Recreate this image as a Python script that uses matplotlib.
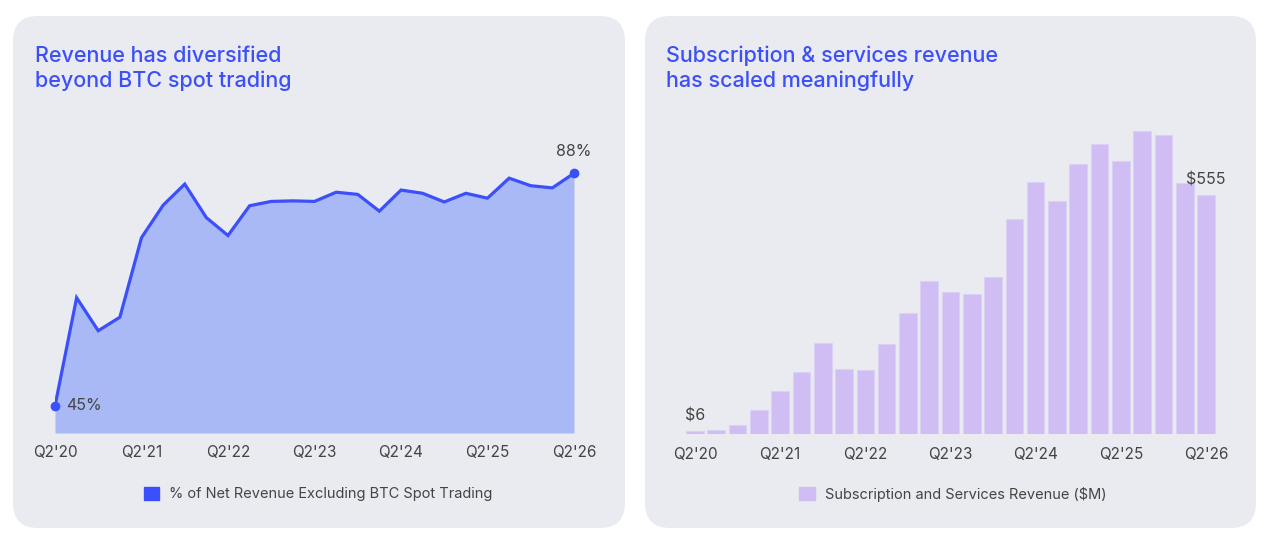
import matplotlib
matplotlib.use('Agg')
import matplotlib.pyplot as plt
from matplotlib.patches import FancyBboxPatch, Patch

plt.rcParams['font.family'] = ['Inter', 'DejaVu Sans']

# data
quarters = ["Q2'20", "Q3'20", "Q4'20", "Q1'21", "Q2'21", "Q3'21", "Q4'21", "Q1'22",
            "Q2'22", "Q3'22", "Q4'22", "Q1'23", "Q2'23", "Q3'23", "Q4'23", "Q1'24",
            "Q2'24", "Q3'24", "Q4'24", "Q1'25", "Q2'25", "Q3'25", "Q4'25", "Q1'26", "Q2'26"]
pct_ex_btc = [45, 65.0, 58.9, 61.4, 76.1, 82.1, 86.0, 79.8, 76.5, 82.0, 82.8, 82.9,
              82.8, 84.5, 84.1, 81.0, 84.9, 84.3, 82.7, 84.3, 83.4, 87.1, 85.7, 85.3, 88]
sub_services = [6, 8.5, 21.7, 55.8, 100.8, 145, 212.4, 151, 148.8, 208.5, 281.4, 355,
                329.4, 326.3, 364.3, 500.7, 586.7, 541.8, 627.8, 675, 634, 704.6, 694.4,
                583.6, 555]
tick_idx = [0, 4, 8, 12, 16, 20, 24]

W, H = 1263, 540
fig = plt.figure(figsize=(W / 100, H / 100), dpi=100)
fig.patch.set_facecolor('white')

panel_bg = '#eaebf0'
blue = '#3b4ffa'
fill_blue = '#a9b9f5'
purple = '#cfbdf3'
grey = '#444444'

# rounded panels (behind the axes)
for x0, x1 in [(13, 625), (645, 1256)]:
    fig.patches.append(FancyBboxPatch((x0 / W, 1 - 528 / H), (x1 - x0) / W, 512 / H,
                                      boxstyle='round,pad=0,rounding_size=0.02',
                                      mutation_aspect=W / H,
                                      transform=fig.transFigure, facecolor=panel_bg,
                                      edgecolor='none', zorder=-5))

fig.text(35 / W, 1 - 87 / H, 'Revenue has diversified\nbeyond BTC spot trading',
         color=blue, fontsize=15.5, fontweight='medium', va='baseline', linespacing=1.25)
fig.text(666 / W, 1 - 87 / H, 'Subscription & services revenue\nhas scaled meaningfully',
         color=blue, fontsize=15.5, fontweight='medium', va='baseline', linespacing=1.25)

# left: area chart
ax1 = fig.add_axes([55 / W, 1 - 433 / H, 519 / W, (433 - 135.4) / H])
x = list(range(len(quarters)))
ax1.fill_between(x, pct_ex_btc, 40, color=fill_blue, lw=0)
ax1.plot(x, pct_ex_btc, color=blue, lw=2.3, solid_joinstyle='miter')
ax1.plot([x[0], x[-1]], [pct_ex_btc[0], pct_ex_btc[-1]], 'o', color=blue, ms=6,
         clip_on=False)
ax1.set_xlim(0, 24)
ax1.set_ylim(40, 95)
ax1.text(x[0] + 0.5, pct_ex_btc[0], f'{pct_ex_btc[0]}%', color=grey, fontsize=11.5,
         va='center', ha='left')
ax1.text(x[-1], pct_ex_btc[-1] + 4, f'{pct_ex_btc[-1]}%', color=grey, fontsize=11.5,
         va='center', ha='center')

# right: bars
ax2 = fig.add_axes([684.4 / W, 1 - 434 / H, 532.2 / W, (434 - 111.4) / H])
ax2.bar(x, sub_services, width=0.83, color=purple, edgecolor='#dcd0f6', lw=0.8)
ax2.set_xlim(-0.5, 24.5)
ax2.set_ylim(0, 750)
ax2.text(x[0], sub_services[0] + 36, f'${sub_services[0]}', color=grey, fontsize=11.5,
         ha='center', va='center')
ax2.text(x[-1], sub_services[-1] + 36, f'${sub_services[-1]}', color=grey, fontsize=11.5,
         ha='center', va='center')

for ax in (ax1, ax2):
    ax.set_facecolor('none')
    for s in ax.spines.values():
        s.set_visible(False)
    ax.set_yticks([])
    ax.set_xticks(tick_idx)
    ax.set_xticklabels([quarters[i] for i in tick_idx], color=grey, fontsize=11)
    ax.tick_params(axis='x', length=0, pad=9)

leg1 = ax1.legend(handles=[Patch(color=blue, label='% of Net Revenue Excluding BTC Spot Trading')],
                  loc='center', bbox_to_anchor=(318 / W, 1 - 494 / H),
                  bbox_transform=fig.transFigure, frameon=False, fontsize=10.5,
                  handlelength=1.05, handleheight=1.05, handletextpad=0.7)
leg2 = ax2.legend(handles=[Patch(color=purple, label='Subscription and Services Revenue ($M)')],
                  loc='center', bbox_to_anchor=(953 / W, 1 - 494 / H),
                  bbox_transform=fig.transFigure, frameon=False, fontsize=10.5,
                  handlelength=1.05, handleheight=1.05, handletextpad=0.7)
for leg in (leg1, leg2):
    for t in leg.get_texts():
        t.set_color(grey)

fig.savefig('out.png', dpi=100, facecolor='white')
